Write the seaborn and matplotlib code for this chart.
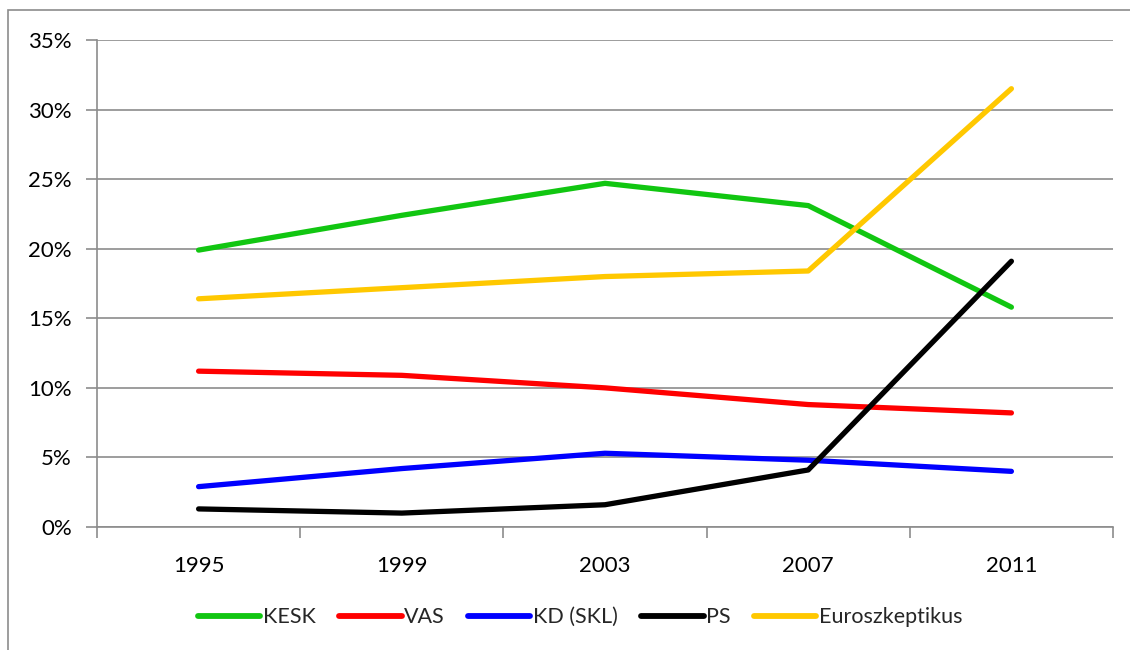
import matplotlib
matplotlib.use("Agg")
import matplotlib.pyplot as plt
import seaborn as sns
import pandas as pd
import numpy as np
from matplotlib.ticker import FixedLocator, FuncFormatter
from matplotlib.patches import Rectangle

years = ["1995", "1999", "2003", "2007", "2011"]
kesk = [19.9, 22.4, 24.7, 23.1, 15.8]
vas = [11.2, 10.9, 10.0, 8.8, 8.2]
kd = [2.9, 4.2, 5.3, 4.8, 4.0]
ps = [1.3, 1.0, 1.6, 4.1, 19.1]
euro = [16.4, 17.2, 18.0, 18.4, 31.5]

series_names = ["KESK", "VAS", "KD (SKL)", "PS", "Euroszkeptikus"]
series_vals = [kesk, vas, kd, ps, euro]
colors = ["#11C611", "#FF0000", "#0000FF", "#000000", "#FFC800"]

rows = []
for name, vals in zip(series_names, series_vals):
    for y, v in zip(years, vals):
        rows.append({"year": y, "value": v, "series": name})
df = pd.DataFrame(rows)

sns.set_theme(style="white")
plt.rcParams['font.family'] = ['Lato', 'DejaVu Sans']

fig = plt.figure(figsize=(11.3, 6.5), dpi=100)
W, H = 1130, 650
ax = fig.add_axes([97 / W, 1 - 527 / H, (1113 - 97) / W, (527 - 40) / H])

sns.lineplot(data=df, x="year", y="value", hue="series", hue_order=series_names,
             palette=colors, linewidth=3.8, ax=ax, sort=False, legend=True)
for ln in ax.lines:
    ln.set_solid_capstyle("round")

ax.set_xlim(-0.5, 4.5)
ax.set_ylim(0, 35)
ax.yaxis.set_major_locator(FixedLocator(np.arange(0, 36, 5)))
ax.yaxis.set_major_formatter(FuncFormatter(lambda v, p: f"{int(v)}%"))
ax.grid(axis="y", color="#8c8c8c", linewidth=1.2)
ax.set_axisbelow(True)
for s in ["top", "right"]:
    ax.spines[s].set_visible(False)
for s in ["left", "bottom"]:
    ax.spines[s].set_color("#8c8c8c")
    ax.spines[s].set_linewidth(1.2)
ax.set_xticks(range(5))
ax.set_xticklabels(years)
ax.xaxis.set_minor_locator(FixedLocator(np.arange(-0.5, 4.6, 1)))
ax.tick_params(axis="x", which="major", length=0, pad=21, labelsize=16, colors="black")
ax.tick_params(axis="x", which="minor", length=8, width=1.2, color="#8c8c8c", bottom=True)
ax.tick_params(axis="y", which="major", length=8, width=1.2, color="#8c8c8c", left=True,
               labelsize=16, pad=10, labelcolor="black")
ax.set_xlabel("")
ax.set_ylabel("")

handles, labels = ax.get_legend_handles_labels()
for h in handles:
    h.set_linewidth(4.2)
    h.set_solid_capstyle("round")
ax.legend(handles, labels, loc="center", bbox_to_anchor=((580 - 97) / (1113 - 97), -0.185),
          ncol=5, frameon=False, fontsize=15.5, handlelength=2.9, handletextpad=0.1,
          columnspacing=1.1)

fig.patches.append(Rectangle((8 / W, -0.1), 1.2, 1 - 10 / H + 0.1, transform=fig.transFigure,
                             fill=False, edgecolor="#8c8c8c", linewidth=1.2))

fig.savefig("out.png", dpi=100)
